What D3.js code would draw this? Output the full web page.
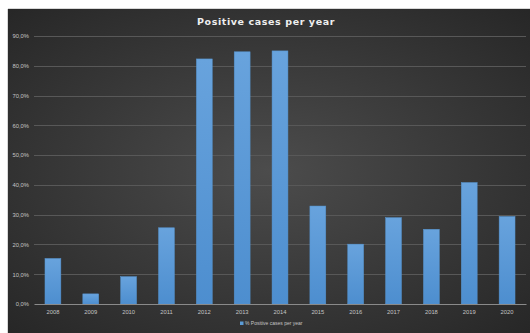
<!DOCTYPE html>
<html>
<head>
<meta charset="utf-8">
<script src="https://cdn.jsdelivr.net/npm/d3@7/dist/d3.min.js"></script>
<style>
  html, body { margin: 0; padding: 0; background: #ffffff; }
  svg { display: block; }
</style>
</head>
<body>
<svg id="chart" width="530" height="333"></svg>
<script>
// Share of positive cases per year
const years = ["2008","2009","2010","2011","2012","2013","2014","2015","2016","2017","2018","2019","2020"];
const positiveShare = [15.3, 3.4, 9.2, 25.6, 82.3, 84.7, 85.0, 32.9, 20.1, 29.0, 25.1, 40.8, 29.4];
const yTicks = [0, 10, 20, 30, 40, 50, 60, 70, 80, 90];
const chartTitle = "Positive cases per year";
const seriesName = "% Positive cases per year";

const W = 530, H = 333;
const svg = d3.select("#chart");

const defs = svg.append("defs");
const bg = defs.append("radialGradient").attr("id", "bgGrad")
  .attr("cx", "50%").attr("cy", "50%").attr("r", "70%");
bg.append("stop").attr("offset", "0%").attr("stop-color", "#4c4c4c");
bg.append("stop").attr("offset", "100%").attr("stop-color", "#272727");

const barGrad = defs.append("linearGradient").attr("id", "barGrad")
  .attr("x1", 0).attr("y1", 0).attr("x2", 0).attr("y2", 1);
barGrad.append("stop").attr("offset", "0%").attr("stop-color", "#68a3dd");
barGrad.append("stop").attr("offset", "100%").attr("stop-color", "#4d8ecf");

// chart panel
svg.append("rect").attr("x", 8).attr("y", 9).attr("width", W - 8).attr("height", H - 9)
  .attr("fill", "url(#bgGrad)");
svg.append("line").attr("x1", 7.5).attr("x2", 7.5).attr("y1", 9).attr("y2", H)
  .attr("stroke", "#d8d8d8");
svg.append("line").attr("x1", 8).attr("x2", W).attr("y1", 8.5).attr("y2", 8.5)
  .attr("stroke", "#d8d8d8");

const x = d3.scaleBand().domain(years).range([34, 526]).paddingInner(0.58).paddingOuter(0.29);
const y = d3.scaleLinear().domain([0, 90]).range([304, 36]);

// gridlines
svg.append("g")
  .selectAll("line").data(yTicks.filter(d => d > 0)).join("line")
  .attr("x1", 34).attr("x2", 526)
  .attr("y1", d => Math.round(y(d)) + 0.5).attr("y2", d => Math.round(y(d)) + 0.5)
  .attr("stroke", "#585858").attr("stroke-width", 1);

// y axis labels
const yAxis = d3.axisLeft(y).tickValues(yTicks).tickSize(0).tickPadding(0)
  .tickFormat(d => d.toFixed(1).replace(".", ",") + "%");
svg.append("g").attr("transform", "translate(29,0)").call(yAxis)
  .call(g => g.select(".domain").remove())
  .call(g => g.selectAll("text")
    .attr("fill", "#c4c4c4").attr("font-size", 5.8)
    .attr("font-family", "Liberation Sans, Arial, sans-serif"));

// bars
svg.append("g").selectAll("rect").data(years).join("rect")
  .attr("x", (d) => x(d))
  .attr("width", x.bandwidth())
  .attr("y", (d, i) => y(positiveShare[i]))
  .attr("height", (d, i) => y(0) - y(positiveShare[i]))
  .attr("fill", "url(#barGrad)")
  .attr("stroke", "#5592cc").attr("stroke-width", 0.5);

// x axis
const xAxis = d3.axisBottom(x).tickSize(0).tickPadding(6);
svg.append("g").attr("transform", `translate(0,${y(0)})`).call(xAxis)
  .call(g => g.select(".domain").attr("stroke", "#8a8a8a").attr("stroke-width", 1.2))
  .call(g => g.selectAll("text")
    .attr("fill", "#c4c4c4").attr("font-size", 5.8)
    .attr("font-family", "Liberation Sans, Arial, sans-serif"));

// title
svg.append("text").attr("x", 266).attr("y", 25).attr("text-anchor", "middle")
  .attr("fill", "#eeeeee").attr("font-size", 9.5).attr("font-weight", "bold")
  .attr("letter-spacing", 0.6)
  .attr("font-family", "DejaVu Sans, sans-serif")
  .text(chartTitle);

// legend
const lg = svg.append("g").attr("transform", "translate(240,325)");
lg.append("rect").attr("x", 0).attr("y", -3.5).attr("width", 3.5).attr("height", 3.5)
  .attr("fill", "#5b9bd5");
lg.append("text").attr("x", 5).attr("y", 0)
  .attr("fill", "#c4c4c4").attr("font-size", 5)
  .attr("font-family", "Liberation Sans, Arial, sans-serif")
  .text(seriesName);
</script>
</body>
</html>
